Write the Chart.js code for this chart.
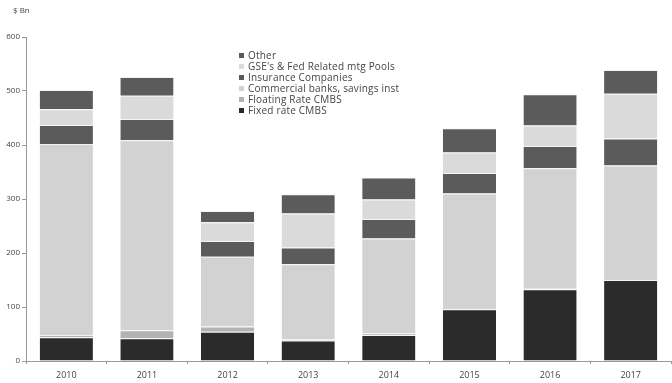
<!DOCTYPE html>
<html>
<head>
<meta charset="utf-8">
<script src="https://cdn.jsdelivr.net/npm/chart.js@4.4.1/dist/chart.umd.min.js"></script>
<style>
  html,body{margin:0;padding:0;background:#fff;}
  #wrap{position:relative;width:672px;height:383px;}
  #unit{position:absolute;left:13px;top:4px;font:8px "Open Sans",sans-serif;color:#444;}
  #legend{position:absolute;left:239px;top:50px;font:10px "Open Sans",sans-serif;color:#444;line-height:11px;letter-spacing:0.2px;}
  #legend div{white-space:nowrap;}
  #legend span{display:inline-block;width:5px;height:5px;margin-right:4px;vertical-align:1px;}
</style>
</head>
<body>
<div id="wrap">
  <canvas id="c" width="672" height="383"></canvas>
  <div id="unit">$ Bn</div>
  <div id="legend"></div>
</div>
<script>
const categories = ["2010","2011","2012","2013","2014","2015","2016","2017"];
const fixedRate       = [44, 42, 54, 38, 48, 96, 133, 150];
const floatingRate    = [4, 15, 10, 2, 3, 2, 2, 2];
const commercialBanks = [354, 352, 129, 139, 176, 212, 222, 210];
const insurance       = [35, 39, 29, 31, 36, 38, 41, 50];
const gse             = [29, 43, 35, 63, 36, 38, 38, 83];
const other           = [36, 35, 21, 36, 41, 45, 58, 44];
const yTicks = [0, 100, 200, 300, 400, 500, 600];

const series = [
  {label:"Fixed rate CMBS", data:fixedRate, color:"#2b2b2b"},
  {label:"Floating Rate CMBS", data:floatingRate, color:"#b2b2b2"},
  {label:"Commercial banks, savings inst", data:commercialBanks, color:"#d2d2d2"},
  {label:"Insurance Companies", data:insurance, color:"#5b5b5b"},
  {label:"GSE's & Fed Related mtg Pools", data:gse, color:"#dadada"},
  {label:"Other", data:other, color:"#5b5b5b"}
];

const datasets = series.map(s => ({
  label: s.label, data: s.data, backgroundColor: s.color,
  borderColor: "#f4f4f4", borderWidth: {top:1, bottom:0, left:0, right:0},
  borderSkipped: false, barPercentage: 0.66, categoryPercentage: 1
}));

const lg = document.getElementById('legend');
series.slice().reverse().forEach(s => {
  const d = document.createElement('div');
  d.innerHTML = '<span style="background:'+s.color+'"></span>' + s.label.replace(/&/g,'&amp;');
  lg.appendChild(d);
});

new Chart(document.getElementById('c'), {
  type: 'bar',
  data: {labels: categories, datasets},
  options: {
    responsive: false, animation: false,
    layout: {padding: {top: 37, right: 1, left: 0, bottom: 0}},
    plugins: {legend: {display: false}, tooltip: {enabled: false}},
    scales: {
      x: {
        stacked: true,
        afterFit: s => { s.height = 22; },
        border: {color: "#999"},
        grid: {display: true, drawOnChartArea: false, offset: true, tickLength: 3, color: "#999"},
        ticks: {color: "#444", font: {family: "Open Sans", size: 9}, padding: 6}
      },
      y: {
        stacked: true, min: 0, max: 600,
        afterFit: s => { s.width = 26; },
        afterBuildTicks: s => { s.ticks = yTicks.map(v => ({value: v})); },
        border: {color: "#999"},
        grid: {display: true, drawOnChartArea: false, tickLength: 4, color: "#999"},
        ticks: {color: "#444", font: {family: "Open Sans", size: 8}, padding: 2}
      }
    }
  }
});
</script>
</body>
</html>
